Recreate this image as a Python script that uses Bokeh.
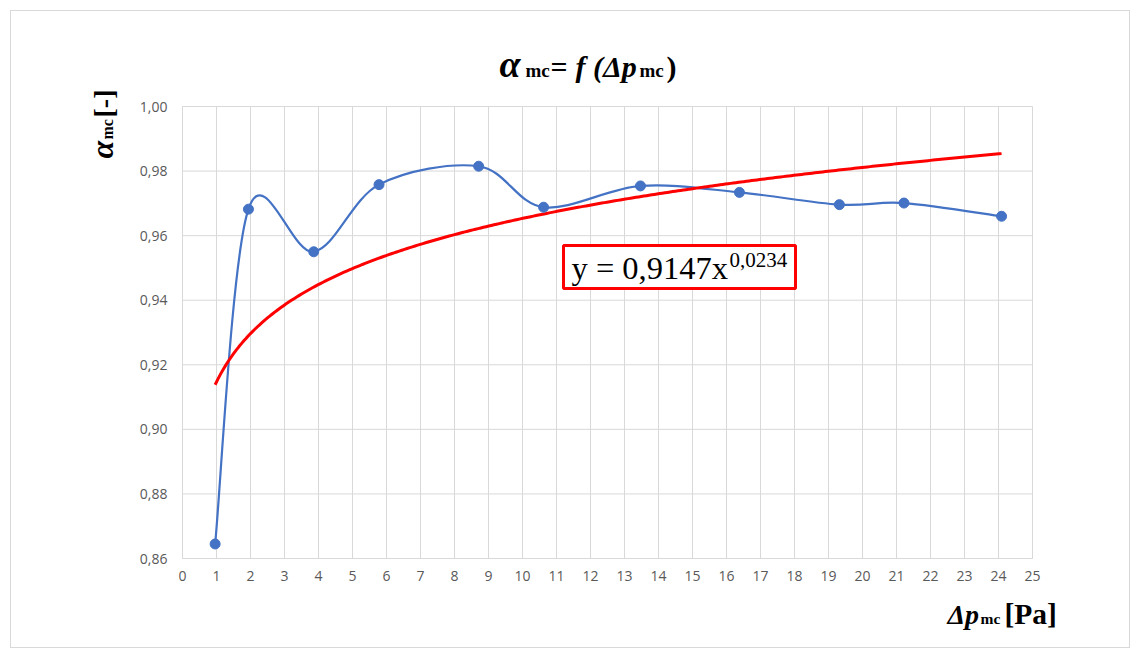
import math
import numpy as np
from bokeh.plotting import figure
from bokeh.models import Range1d, FixedTicker, Label, BoxAnnotation, CustomJSTickFormatter, LinearAxis
from bokeh.embed import file_html
from bokeh.resources import INLINE

# Measured points: pressure drop [Pa] vs. coefficient alpha_mc [-]
dp_mc = [0.96, 1.94, 3.86, 5.78, 8.71, 10.62, 13.47, 16.38, 19.32, 21.22, 24.09]
alpha_mc = [0.8645, 0.9682, 0.9550, 0.9758, 0.9815, 0.9688, 0.9754, 0.9734, 0.9696, 0.9701, 0.9660]

# Power-law trend line y = a * x^b
fit_a = 0.9147
fit_b = 0.0234

x_ticks = list(range(0, 26))
y_ticks = [0.86, 0.88, 0.90, 0.92, 0.94, 0.96, 0.98, 1.00]
x_lo, x_hi = 0, 25
y_lo, y_hi = 0.86, 1.00

BLUE = "#4472C4"
RED = "#FF0000"
GRID = "#d9d9d9"
SERIF = "Liberation Serif"

# canvas geometry (pixels); the whole canvas is the plot frame so that the
# title and axis titles can be placed freely around the data area
W, H = 1120, 638
ORG_X, ORG_Y = 11, 11                 # canvas origin on the page
AREA_L, AREA_R = 182, 1032            # data area, page pixels
AREA_T, AREA_B = 106, 558

ux = (AREA_R - AREA_L) / (x_hi - x_lo)
uy = (AREA_B - AREA_T) / (y_hi - y_lo)
x_start = x_lo - (AREA_L - ORG_X) / ux
y_end = y_hi + (AREA_T - ORG_Y) / uy

p = figure(
    width=W, height=H,
    x_range=Range1d(x_start, x_start + W / ux),
    y_range=Range1d(y_end - H / uy, y_end),
    x_axis_location=None, y_axis_location=None,
    output_backend="svg", toolbar_location=None,
    min_border=0,
    margin=(10, 0, 0, 10),
    styles={"border": "1px solid #d9d9d9"},
)
p.background_fill_color = "white"
p.border_fill_color = "white"
p.outline_line_color = None
p.grid.visible = False

# grid lines limited to the data area
p.segment(x0=x_ticks, y0=[y_lo] * len(x_ticks), x1=x_ticks, y1=[y_hi] * len(x_ticks),
          line_color=GRID, line_width=1)
p.segment(x0=[x_lo] * len(y_ticks), y0=y_ticks, x1=[x_hi] * len(y_ticks), y1=y_ticks,
          line_color=GRID, line_width=1)

xaxis = LinearAxis(fixed_location=y_lo, bounds=(x_lo, x_hi),
                   ticker=FixedTicker(ticks=x_ticks))
yaxis = LinearAxis(fixed_location=x_lo, bounds=(y_lo, y_hi),
                   ticker=FixedTicker(ticks=y_ticks),
                   formatter=CustomJSTickFormatter(code="return tick.toFixed(2).replace('.', ',');"))
for ax in (xaxis, yaxis):
    ax.axis_line_color = GRID
    ax.major_tick_line_color = None
    ax.minor_tick_line_color = None
    ax.major_tick_out = 0
    ax.major_tick_in = 0
    ax.major_label_text_font = "Open Sans"
    ax.major_label_text_font_size = "14px"
    ax.major_label_text_color = "#595959"
xaxis.major_label_standoff = 12
yaxis.major_label_standoff = 15
p.add_layout(xaxis, "below")
p.add_layout(yaxis, "left")

# smoothed measured curve (Catmull-Rom segments as cubic Beziers)
x = np.array(dp_mc)
y = np.array(alpha_mc)
xp = np.concatenate([[x[0]], x, [x[-1]]])
yp = np.concatenate([[y[0]], y, [y[-1]]])
n = len(x)
cx0 = x[:-1] + (xp[2:n + 1] - xp[0:n - 1]) / 6
cy0 = y[:-1] + (yp[2:n + 1] - yp[0:n - 1]) / 6
cx1 = x[1:] - (xp[3:n + 2] - xp[1:n]) / 6
cy1 = y[1:] - (yp[3:n + 2] - yp[1:n]) / 6
p.bezier(x0=x[:-1], y0=y[:-1], x1=x[1:], y1=y[1:],
         cx0=cx0, cy0=cy0, cx1=cx1, cy1=cy1,
         line_color=BLUE, line_width=2.2)

# power trend line over the measured range
xs = np.linspace(min(dp_mc), max(dp_mc), 300)
ys = fit_a * xs ** fit_b
p.line(xs, ys, line_color=RED, line_width=3)

p.scatter(dp_mc, alpha_mc, size=10, fill_color=BLUE, line_color=BLUE)


def put(text, px, py, size, style, angle=0.0, color="black"):
    """Place a text by its page position (left end, baseline)."""
    mid = 0.3375 * size
    if angle:
        sx, sy = px - mid - ORG_X, ORG_Y + H - py
    else:
        sx, sy = px - ORG_X, ORG_Y + H - (py - mid)
    p.add_layout(Label(x=sx, y=sy, x_units="screen", y_units="screen", text=text,
                       text_font=SERIF, text_font_size=f"{size}px",
                       text_font_style=style, text_color=color,
                       text_baseline="middle", text_align="left",
                       angle=angle, level="overlay"))


# equation box of the trend line
p.add_layout(BoxAnnotation(left=x_lo + (563 - AREA_L) / ux, right=x_lo + (795 - AREA_L) / ux,
                           bottom=y_hi - (288 - AREA_T) / uy, top=y_hi - (245 - AREA_T) / uy,
                           fill_color="white", fill_alpha=1.0,
                           line_color=RED, line_alpha=1.0, line_width=3, level="overlay"))
put(f"y = {fit_a:.4f}".replace(".", ",") + "x", 571, 278, 32.5, "normal")
put(f"{fit_b:.4f}".replace(".", ","), 729, 267, 21, "normal")

# title: alpha_mc = f (Δp_mc)
put("α", 499, 76, 38, "bold italic")
put("mc", 525, 76, 19, "bold")
put("=", 550, 76, 30, "bold")
put("f (Δp", 575, 76, 30, "bold italic")
put("mc", 639, 76, 19, "bold")
put(")", 666, 76, 30, "bold")

# x-axis title: Δp_mc [Pa]
put("Δp", 947, 623, 28, "bold italic")
put("mc", 980, 623, 15.5, "bold")
put("[Pa]", 1004, 623, 29.5, "bold")

# y-axis title: alpha_mc [-] (vertical)
put("α", 112, 158, 32, "bold italic", math.pi / 2)
put("mc", 112, 139, 16, "bold", math.pi / 2)
put("[-]", 112, 117, 28, "bold", math.pi / 2)

open("out.html", "w").write(file_html(p, INLINE))
